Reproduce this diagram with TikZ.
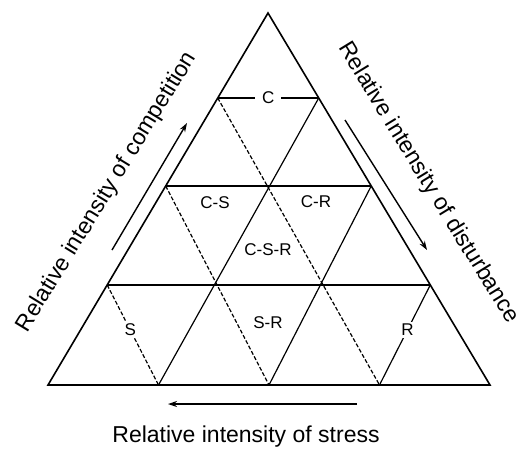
\documentclass[tikz,border=0pt]{standalone}
\usepackage{fontspec}
\setmainfont{Liberation Sans}
\usetikzlibrary{calc,arrows.meta}
\begin{document}
\begin{tikzpicture}[x=1pt,y=-1pt,
  outer/.style={line width=1.6pt,line join=miter},
  hline/.style={line width=2pt},
  updiag/.style={line width=1.2pt},
  dndiag/.style={line width=1.2pt,dash pattern=on 4pt off 2pt},
  zone/.style={font=\fontsize{17}{19}\selectfont,inner sep=2pt},
  zonebg/.style={zone,fill=white},
  axis/.style={font=\fontsize{23}{26}\selectfont,inner sep=0pt},
  axarrow/.style={line width=1.4pt,-{Stealth[length=9pt,width=6pt]}}]
\useasboundingbox (0,0) rectangle (526,451);
% corners
\coordinate (A) at (268,13);
\coordinate (BL) at (48,385);
\coordinate (BR) at (490,385);
% row end points
\coordinate (L1) at ($(A)!0.2285!(BL)$);
\coordinate (R1) at ($(A)!0.2285!(BR)$);
\coordinate (L2) at ($(A)!0.465!(BL)$);
\coordinate (R2) at ($(A)!0.465!(BR)$);
\coordinate (L3) at ($(A)!0.731!(BL)$);
\coordinate (R3) at ($(A)!0.731!(BR)$);
% base points
\coordinate (B1) at ($(BL)!0.25!(BR)$);
\coordinate (B2) at ($(BL)!0.5!(BR)$);
\coordinate (B3) at ($(BL)!0.75!(BR)$);
% outer triangle
\draw[outer] (A) -- (BL) -- (BR) -- cycle;
% horizontals
\draw[hline] (L1) -- (R1);
\draw[hline] (L2) -- (R2);
\draw[hline] (L3) -- (R3);
% lines parallel to left side
\draw[updiag] (B1) -- (R1);
\draw[updiag] (B2) -- (R2);
\draw[updiag] (B3) -- (R3);
% lines parallel to right side
\draw[dndiag] (L1) -- (B3);
\draw[dndiag] (L2) -- (B2);
\draw[dndiag] (L3) -- (B1);
% zone labels
\node[zonebg,inner xsep=7pt] (zc) at ($(L1)!0.5!(R1)$) {C};
\node[zone] (zcs) at (215,203) {C-S};
\node[zone] (zcr) at (316,202) {C-R};
\node[zone] (zcsr) at (268,250) {C-S-R};
\node[zonebg] (zs) at ($(L3)!0.45!(B1)$) {S};
\node[zone] (zsr) at (268,323) {S-R};
\node[zonebg] (zr) at ($(R3)!0.45!(B3)$) {R};
% axis arrows
\coordinate (la1) at (112,250);
\coordinate (la2) at (187,123);
\coordinate (ra1) at (345,120);
\coordinate (ra2) at (427,250);
\coordinate (ba1) at (357,404);
\coordinate (ba2) at (168,404);
\draw[axarrow] (la1) -- (la2);
\draw[axarrow] (ra1) -- (ra2);
\draw[axarrow] (ba1) -- (ba2);
% axis labels
\node[axis,rotate=58.5] (tcomp) at (107,192) {Relative intensity of competition};
\node[axis,rotate=-58.5] (tdist) at (428,183) {Relative intensity of disturbance};
\node[axis] (tstress) at (246,437) {Relative intensity of stress};
\end{tikzpicture}
\end{document}
